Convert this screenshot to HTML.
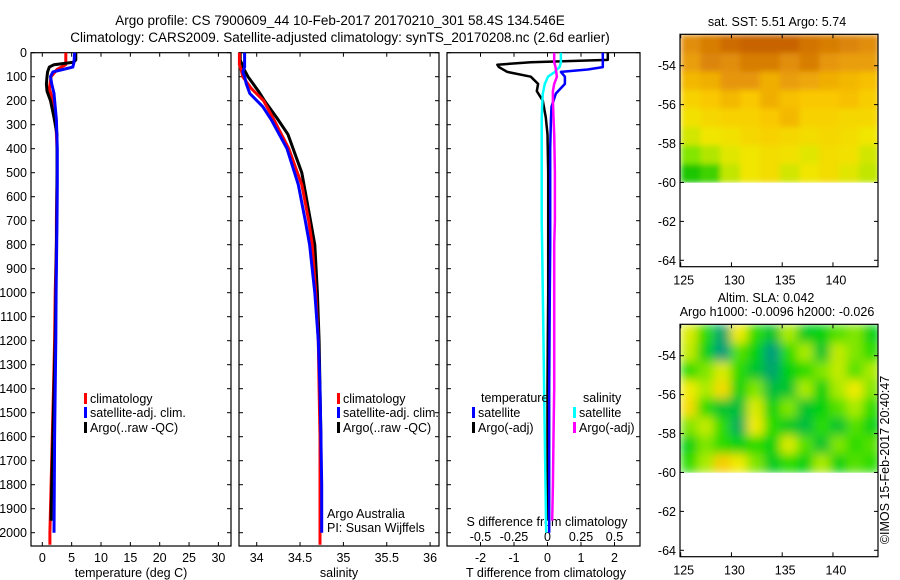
<!DOCTYPE html>
<html><head><meta charset="utf-8"><style>
body{margin:0;background:#fff;}
svg{display:block;font-family:"Liberation Sans",sans-serif;}
text{font-size:12.5px;fill:#000;}
</style></head><body>
<svg id="c" width="900" height="580" xmlns="http://www.w3.org/2000/svg">
<defs>
<filter id="blur" x="0" y="0" width="1" height="1"><feGaussianBlur stdDeviation="5" edgeMode="duplicate"/></filter>
<filter id="blur2" x="0" y="0" width="1" height="1"><feGaussianBlur stdDeviation="3" edgeMode="duplicate"/></filter>
<clipPath id="clip1"><rect x="680" y="34.3" width="198" height="148.4"/></clipPath>
<clipPath id="clip2"><rect x="680" y="324.3" width="198" height="148.4"/></clipPath>
</defs>
<text x="340" y="25" text-anchor="middle" style="font-size:13.5px">Argo profile: CS 7900609_44 10-Feb-2017 20170210_301 58.4S 134.546E</text>
<text x="340" y="42" text-anchor="middle" style="font-size:13.5px">Climatology: CARS2009. Satellite-adjusted climatology: synTS_20170208.nc (2.6d earlier)</text>
<g id="g"></g>
</svg>
<script>
// ---- data ----
const depthTicks=[0,100,200,300,400,500,600,700,800,900,1000,1100,1200,1300,1400,1500,1600,1700,1800,1900,2000];
const tempTicks=[0,5,10,15,20,25,30];
const salTicks=[34,34.5,35,35.5,36];
const tdiffTicks=[-2,-1,0,1,2];
const sdiffTicks=[-0.5,-0.25,0,0.25,0.5];
const lonTicks=[125,130,135,140];
const latTicks=[-54,-56,-58,-60,-62,-64];

const climDepth=[0,50,70,100,150,200,280,400,550,700,800,1000,1200,1400,1600,1800,2000,2050];
const climTemp=[4.0,4.0,2.5,1.5,1.2,1.8,2.3,2.5,2.5,2.4,2.4,2.2,2.1,1.9,1.7,1.5,1.3,1.3];
const climSal=[33.8,33.8,33.82,33.84,33.94,34.08,34.2,34.37,34.52,34.6,34.64,34.68,34.71,34.72,34.73,34.73,34.73,34.73];
const satDepth=[0,40,60,70,80,100,130,170,225,280,400,550,700,800,1000,1200,1400,1600,1800,2000];
const satTemp=[5.5,5.4,5.2,3.5,1.8,1.4,1.6,2.0,2.2,2.4,2.55,2.55,2.5,2.45,2.35,2.3,2.2,2.1,2.05,2.0];
const satSal=[33.86,33.86,33.86,33.85,33.84,33.86,33.88,33.92,34.07,34.17,34.35,34.48,34.56,34.61,34.67,34.71,34.73,34.74,34.75,34.75];
const argoDepth=[0,30,40,50,60,80,100,130,160,200,270,340,500,700,800,1000,1200,1400,1600,1800,1950];
const argoTemp=[5.7,5.7,5.3,2.0,1.2,0.9,0.8,0.7,0.8,1.4,2.0,2.5,2.5,2.45,2.4,2.3,2.2,2.0,1.8,1.6,1.5];
const argoSal=[33.81,33.81,33.82,33.84,33.84,33.87,33.9,33.96,34.02,34.09,34.23,34.36,34.52,34.62,34.67,34.7,34.72,34.73,34.74,34.74,34.74];
const tSatDiff=[1.65,1.65,1.65,1.2,0.4,0.52,0.52,0.25,0.12,0.1,0.08,0.08,0.08,0.08,0.07,0.06,0.05,0.05,0.05,0.05];
const tArgoDiff=[1.8,1.8,-0.5,-1.5,-1.45,-1.2,-0.5,-0.28,-0.32,-0.14,-0.05,0.0,0.02,0.02,0.02,0.02,0.01,0.0,0.0,0.0,0.0];
const sSatDiff=[0.1,0.1,0.09,0.07,0.055,0.004,-0.02,-0.035,-0.04,-0.043,-0.043,-0.043,-0.043,-0.04,-0.035,-0.03,-0.025,-0.02,-0.015,-0.01];
const sArgoDiff=[0.05,0.05,0.05,0.055,0.06,0.065,0.07,0.05,0.04,0.04,0.045,0.05,0.055,0.055,0.05,0.05,0.05,0.05,0.045,0.04,0.035];

const sstLat=[-52.4,-53.35,-54.3,-55.25,-56.2,-57.15,-58.1,-59.05,-60];
const sstLon=[125,126.95,128.9,130.85,132.8,134.75,136.7,138.65,140.6,142.55,144.5];
const sstVals=[
[6.5,6.7,6.9,7.1,7.0,7.0,6.8,6.7,6.6,6.5],
[6.3,6.6,6.5,6.7,6.7,6.5,6.7,6.4,6.3,6.3],
[6.0,6.1,6.4,6.4,6.1,6.3,6.2,6.1,6.0,5.9],
[5.6,5.8,6.0,5.8,6.1,5.9,5.8,5.8,5.9,5.7],
[5.3,5.5,5.6,5.6,5.8,6.0,5.6,5.6,5.5,5.5],
[5.0,5.2,5.3,5.5,5.6,5.5,5.4,5.5,5.4,5.2],
[4.5,4.8,5.1,5.2,5.4,5.3,5.1,5.4,5.3,5.0],
[3.7,4.0,4.9,5.2,5.4,5.0,5.2,5.4,5.1,4.9]];
const slaLat=[-52.4,-53.35,-54.3,-55.25,-56.2,-57.15,-58.1,-59.05,-60];
const slaLon=[125,126.63,128.27,129.9,131.53,133.17,134.8,136.43,138.07,139.7,141.33,142.97,144.6];
const slaVals=[
[0.07,0.02,-0.06,0.08,0.02,-0.02,0.05,-0.01,0.0,0.03,0.04,0.0],
[0.06,0.0,-0.07,0.03,0.0,-0.07,0.02,0.05,-0.02,0.06,0.04,0.02],
[0.02,0.04,0.07,0.02,-0.02,-0.06,0.0,0.02,0.04,0.06,0.03,0.05],
[0.08,0.05,0.09,0.0,0.04,-0.03,-0.02,0.05,0.0,0.05,0.08,0.04],
[0.09,0.02,-0.02,-0.03,0.07,0.0,0.04,-0.02,0.0,0.03,0.05,0.02],
[0.04,0.06,0.02,-0.05,0.08,0.02,-0.01,-0.03,0.02,-0.02,0.03,0.0],
[0.0,0.04,0.02,0.0,0.02,0.0,0.07,0.03,-0.02,0.04,0.02,0.03],
[0.02,0.05,0.1,0.08,0.04,-0.01,0.02,0.0,0.05,0.0,0.03,0.02]];

// ---- helpers ----
const NS="http://www.w3.org/2000/svg";
const G=document.getElementById('g');
function mk(tag,at,txt,parent){const e=document.createElementNS(NS,tag);for(const k in at)e.setAttribute(k,at[k]);if(txt!==undefined&&txt!==null)e.textContent=txt;(parent||G).appendChild(e);return e;}
const yD=d=>52.7+d*0.24;
const xT=t=>42.3+t*5.87;
const xS=s=>256.7+(s-34)*86.7;
const xTd=t=>547.5+t*33.5;
const xSd=s=>547.5+s*134;

function frame(x0,x1,y0,y1,name){
 const r=mk('rect',{x:x0,y:y0,width:x1-x0,height:y1-y0,fill:'none',stroke:'#000','stroke-width':1.2});
 
 
}
function xticks(vals,fx,y0,y1,ly,name){
 vals.forEach(v=>{const x=fx(v);
  mk('line',{x1:x,x2:x,y1:y1,y2:y1-4,stroke:'#000'});
  mk('line',{x1:x,x2:x,y1:y0,y2:y0+4,stroke:'#000'});
  if(ly){const t=mk('text',{x:x,y:ly,'text-anchor':'middle'},String(v));
  
  }
 });
}
function line(xs,ds,fx,color,name,w){
 const pts=xs.map((v,i)=>fx(v).toFixed(1)+','+yD(ds[i]).toFixed(1)).join(' ');
 const p=mk('polyline',{points:pts,fill:'none',stroke:color,'stroke-width':w||3,'stroke-linejoin':'round'});
 
 
}
function legend(x,y,color,label){
 mk('rect',{x:x,y:y-10,width:3,height:11,fill:color});
 const t=mk('text',{x:x+6,y:y},label);
 
 
}

// ---- panel 1: temperature ----
frame(31,231,52.7,546,'temperature-panel');
depthTicks.forEach(d=>{const y=yD(d);
 mk('line',{x1:31,x2:35,y1:y,y2:y,stroke:'#000'});
 mk('line',{x1:227,x2:231,y1:y,y2:y,stroke:'#000'});
 mk('line',{x1:239,x2:243,y1:y,y2:y,stroke:'#000'});
 mk('line',{x1:435,x2:439,y1:y,y2:y,stroke:'#000'});
 mk('line',{x1:447,x2:451,y1:y,y2:y,stroke:'#000'});
 mk('line',{x1:636,x2:640,y1:y,y2:y,stroke:'#000'});
 const t=mk('text',{x:27,y:y+4.5,'text-anchor':'end'},String(d));
 
 
});
xticks(tempTicks,xT,52.7,546,562,'temperature-tick-label');
line(climTemp,climDepth,xT,'#f00','climatology-temperature-line');
line(argoTemp,argoDepth,xT,'#000','argo-temperature-line');
line(satTemp,satDepth,xT,'#00f','satellite-temperature-line');
legend(84,403,'#f00','climatology');
legend(84,417,'#00f','satellite-adj. clim.');
legend(84,432,'#000','Argo(..raw -QC)');
mk('text',{x:131,y:577,'text-anchor':'middle'},'temperature (deg C)');

// ---- panel 2: salinity ----
frame(239,439,52.7,546,'salinity-panel');
xticks(salTicks,xS,52.7,546,562,'salinity-tick-label');
line(argoSal,argoDepth,xS,'#000','argo-salinity-line');
line(climSal,climDepth,xS,'#f00','climatology-salinity-line');
line(satSal,satDepth,xS,'#00f','satellite-salinity-line');
legend(337,403,'#f00','climatology');
legend(337,417,'#00f','satellite-adj. clim.');
legend(337,432,'#000','Argo(..raw -QC)');
mk('text',{x:327,y:518},'Argo Australia');
mk('text',{x:327,y:532},'PI: Susan Wijffels');
mk('text',{x:339,y:577,'text-anchor':'middle'},'salinity');

// ---- panel 3: differences ----
frame(447,640,52.7,546,'difference-panel');
xticks(tdiffTicks,xTd,52.7,546,562,'tdiff-tick-label');
sdiffTicks.forEach(v=>{const t=mk('text',{x:xSd(v),y:541,'text-anchor':'middle'},String(v));
 
 });
mk('text',{x:547,y:526,'text-anchor':'middle'},'S difference from climatology');
mk('text',{x:546,y:577,'text-anchor':'middle'},'T difference from climatology');
line(tArgoDiff,argoDepth,xTd,'#000','argo-t-diff-line',2.5);
line(sSatDiff,satDepth,xSd,'#0ff','satellite-s-diff-line',2.5);
line(tSatDiff,satDepth,xTd,'#00f','satellite-t-diff-line',2.5);
line(sArgoDiff,argoDepth,xSd,'#f0f','argo-s-diff-line',2.5);
mk('text',{x:481,y:402},'temperature');
mk('text',{x:583,y:402},'salinity');
legend(472,417,'#00f','satellite');
legend(472,432,'#000','Argo(-adj)');
legend(573,417,'#0ff','satellite');
legend(573,432,'#f0f','Argo(-adj)');

// ---- maps ----
const xL=l=>680.7+(l-125)*10.15;
function sstColor(v){const stops=[[3.5,[0,190,0]],[4.5,[130,230,0]],[5.2,[240,230,0]],[5.8,[250,200,0]],[6.4,[230,150,10]],[7.0,[200,100,0]]];
 return interp(v,stops);}
function slaColor(v){const stops=[[-0.08,[0,150,140]],[-0.03,[0,190,60]],[0.01,[0,215,0]],[0.05,[170,235,0]],[0.08,[240,235,0]],[0.11,[250,190,0]]];
 return interp(v,stops);}
function interp(v,s){if(v<=s[0][0])return 'rgb('+s[0][1]+')';
 for(let i=1;i<s.length;i++){if(v<=s[i][0]){const f=(v-s[i-1][0])/(s[i][0]-s[i-1][0]);
  const c=s[i-1][1].map((a,k)=>Math.round(a+(s[i][1][k]-a)*f));return 'rgb('+c+')';}}
 return 'rgb('+s[s.length-1][1]+')';}
function map(top,lats,lons,vals,colf,name,clip,filt){
 const yLat=l=>top+31.4+(-54-l)*19.46;
 const outer=mk('g',{'clip-path':'url(#'+clip+')'});
 const grp=mk('g',{filter:'url(#'+filt+')'},null,outer);
 vals.forEach((row,i)=>row.forEach((v,j)=>{
  const x0=xL(lons[j]),x1=xL(lons[j+1]),y0=yLat(lats[i]),y1=yLat(lats[i+1]);
  const r=mk('rect',{x:x0,y:y0,width:x1-x0+0.5,height:y1-y0+0.5,fill:colf(v)},null,grp);
  
  
 }));
 frame(680,878,top,top+232.4,name+'-frame');
 latTicks.forEach(l=>{const y=yLat(l);
  mk('line',{x1:680,x2:684,y1:y,y2:y,stroke:'#000'});
  mk('line',{x1:874,x2:878,y1:y,y2:y,stroke:'#000'});
  const t=mk('text',{x:676,y:y+4.5,'text-anchor':'end'},String(l));
  
  });
 lonTicks.forEach(l=>{const x=xL(l);
  mk('line',{x1:x,x2:x,y1:top,y2:top+4,stroke:'#000'});
  mk('line',{x1:x,x2:x,y1:top+232.4,y2:top+228,stroke:'#000'});
  const t=mk('text',{x:x+3,y:top+250,'text-anchor':'middle'},String(l));
  
  });
}
map(34.3,sstLat,sstLon,sstVals,sstColor,'sst-map','clip1','blur2');
map(324.3,slaLat,slaLon,slaVals,slaColor,'sla-map','clip2','blur');
mk('text',{x:777,y:26,'text-anchor':'middle'},'sat. SST: 5.51  Argo: 5.74');
mk('text',{x:766,y:302,'text-anchor':'middle'},'Altim. SLA: 0.042');
mk('text',{x:777,y:316,'text-anchor':'middle'},'Argo h1000: -0.0096  h2000: -0.026');
mk('text',{x:0,y:0,'text-anchor':'middle',transform:'translate(889,460) rotate(-90)'},'©IMOS 15-Feb-2017 20:40:47');
</script>
</body></html>
